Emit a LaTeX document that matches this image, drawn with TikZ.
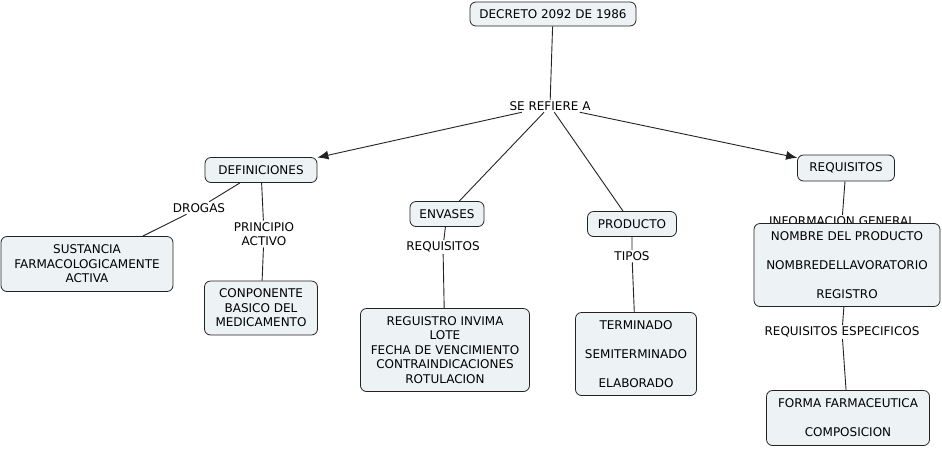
\documentclass[tikz,border=0pt]{standalone}
\usepackage{fontspec}
\setmainfont{DejaVu Sans}
\usetikzlibrary{arrows.meta, backgrounds}
\definecolor{PaleSlate}{HTML}{EDF3F5}
\definecolor{InkGray}{HTML}{222222}

\begin{document}
\begin{tikzpicture}[x=1pt, y=-1pt,
    concept/.style={draw=InkGray, line width=0.8pt, fill=PaleSlate, rounded corners=6pt, align=center,
        inner sep=2pt, font=\fontsize{12}{14.5}\selectfont},
    linklabel/.style={align=center, inner sep=1.5pt, font=\fontsize{12}{14.5}\selectfont},
    link/.style={draw=InkGray, line width=0.9pt},
    arrowlink/.style={link, -{Latex[length=11pt, width=9pt]}}]
    \useasboundingbox (0,0) rectangle (942,448);

    % Root
    \node[concept, minimum width=166, minimum height=24] (decreto) at (553,14) {DECRETO 2092 DE 1986};
    \node[linklabel] (serefiere) at (550,106) {SE REFIERE A};

    % Definiciones
    \node[concept, minimum width=112, minimum height=25] (definiciones) at (261,170) {DEFINICIONES};
    \node[linklabel] (drogas) at (199,208) {DROGAS};
    \node[linklabel] (principio) at (264,234) {PRINCIPIO\\ACTIVO};
    \node[concept, minimum width=172, minimum height=55] (sustancia) at (87,264) {SUSTANCIA\\FARMACOLOGICAMENTE\\ACTIVA};
    \node[concept, minimum width=113, minimum height=54] (componente) at (261,308) {CONPONENTE\\BASICO DEL\\MEDICAMENTO};

    % Envases
    \node[concept, minimum width=74, minimum height=25] (envases) at (447,214) {ENVASES};
    \node[linklabel] (reqenvases) at (443,247) {REQUISITOS};
    \node[concept, minimum width=169, minimum height=83] (listaenvases) at (445,350)
        {REGUISTRO INVIMA\\LOTE\\FECHA DE VENCIMIENTO\\CONTRAINDICACIONES\\ROTULACION};

    % Producto
    \node[concept, minimum width=89, minimum height=25] (producto) at (632,224) {PRODUCTO};
    \node[linklabel] (tipos) at (632,256) {TIPOS};
    \node[concept, minimum width=121, minimum height=83] (tiposproducto) at (636,354)
        {TERMINADO\\[14.5pt]SEMITERMINADO\\[14.5pt]ELABORADO};

    % Requisitos
    \node[concept, minimum width=97, minimum height=26] (requisitos) at (846,168) {REQUISITOS};
    \node[linklabel] (infogeneral) at (842,221) {INFORMACION GENERAL}; % half hidden by the box
    \node[concept, minimum width=186, minimum height=83] (general) at (847,265)
        {NOMBRE DEL PRODUCTO\\[14.5pt]NOMBREDELLAVORATORIO\\[14.5pt]REGISTRO};
    \node[linklabel] (reqespecificos) at (842,332) {REQUISITOS ESPECIFICOS};
    \node[concept, minimum width=163, minimum height=55] (especificos) at (848,418)
        {FORMA FARMACEUTICA\\[14.5pt]COMPOSICION};

    % Connectors
    \begin{scope}[on background layer]
        \draw[link] (decreto) -- (serefiere);
        \draw[arrowlink] (serefiere) -- (definiciones);
        \draw[link] (serefiere) -- (envases);
        \draw[link] (serefiere) -- (producto);
        \draw[arrowlink] (serefiere) -- (requisitos);
        \draw[link] (definiciones) -- (drogas) -- (sustancia);
        \draw[link] (definiciones) -- (principio) -- (componente);
        \draw[link] (envases) -- (reqenvases) -- (listaenvases);
        \draw[link] (producto) -- (tipos) -- (tiposproducto);
        \draw[link] (requisitos) -- (infogeneral) -- (general);
        \draw[link] (general) -- (reqespecificos) -- (especificos);
    \end{scope}
\end{tikzpicture}
\end{document}
